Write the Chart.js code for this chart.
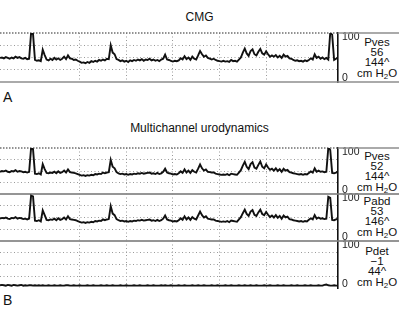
<!DOCTYPE html>
<html><head><meta charset="utf-8">
<script src="https://cdn.jsdelivr.net/npm/chart.js@4/dist/chart.umd.min.js"></script>
<style>
body{margin:0;width:399px;height:311px;position:relative;background:#fff;overflow:hidden;font-family:"Liberation Sans",Arial,Helvetica,sans-serif;color:#111}
canvas{position:absolute;left:0}
.t{position:absolute;white-space:nowrap}
.ttl{font-size:12px;width:399px;left:0;text-align:center;line-height:14px}
.pl{font-size:14px;left:3px;line-height:16px}
.ch{font-size:11.5px;line-height:10.4px;left:352px;width:50px;text-align:center}
.ch sub{font-size:8px;line-height:0;vertical-align:-2px}
</style>
</head><body>
<div class="t ttl" style="top:10px">CMG</div>
<div class="t pl" style="top:89px">A</div>
<div class="t ttl" style="top:121px">Multichannel urodynamics</div>
<div class="t pl" style="top:292px">B</div>
<div class="t ch" style="top:36.5px">Pves<br>56<br>144^<br>cm H<sub>2</sub>O</div>
<div class="t ch" style="top:150.5px">Pves<br>52<br>144^<br>cm H<sub>2</sub>O</div>
<div class="t ch" style="top:195.5px">Pabd<br>53<br>146^<br>cm H<sub>2</sub>O</div>
<div class="t ch" style="top:245.5px">Pdet<br>&minus;1<br>44^<br>cm H<sub>2</sub>O</div>
<script>
// ---- data (cm H2O), one sample every 2.5 s ----
const sampleStart = 17.5;   // s
const sampleStep = 2.5;     // s
const timeMin = 17.5, timeMax = 452.5, gridEvery = 60; // s

const cmgPves = [
49,50,48,51,49,47,50,48,52,49,51,48,47,49,46,47,110,108,44,42,43,41,69,56,45,
43,47,44,49,45,48,44,47,52,46,55,48,47,44,45,42,40,37,38,36,39,37,41,39,42,
40,44,42,45,43,47,46,80,62,58,46,44,41,43,40,42,39,43,41,44,42,45,43,46,42,
45,44,47,43,45,42,44,41,45,47,57,45,44,42,40,42,41,43,48,45,53,46,50,44,52,
47,45,55,66,58,52,55,49,47,45,47,44,42,41,40,42,40,41,39,44,41,42,40,45,50,
62,72,60,54,66,70,58,55,64,71,60,57,65,58,52,55,52,56,50,54,49,57,52,54,48,
47,44,42,43,41,42,40,43,41,44,48,45,58,49,52,47,50,46,49,45,110,106,44,47,50];

const pves = [
48,50,49,51,48,47,50,49,52,48,50,49,47,48,46,48,110,107,43,42,44,41,68,55,45,
44,46,45,48,44,49,45,47,51,46,54,47,46,45,44,42,40,38,39,37,39,38,40,39,42,
41,43,42,46,44,46,47,79,61,57,47,44,42,43,41,42,40,42,41,43,42,44,43,45,43,
44,45,46,43,44,42,45,42,44,48,56,46,44,43,41,42,41,44,49,45,54,46,51,45,52,
48,46,56,67,57,51,54,48,47,46,46,43,42,41,40,41,40,42,39,43,42,41,40,46,52,
64,74,61,55,68,73,59,56,66,75,61,57,67,59,53,56,51,57,50,55,48,56,51,53,47,
46,44,43,42,41,42,40,42,41,45,49,46,57,48,51,48,49,47,48,110,105,45,44,46,49];

const pabd = [
47,49,48,50,47,46,49,48,51,47,49,48,46,47,45,47,106,104,42,41,43,40,68,56,44,
43,45,44,47,43,48,44,46,50,45,53,46,45,44,43,41,39,37,38,36,38,37,39,38,41,
40,42,41,45,43,45,46,79,60,56,46,43,41,42,40,41,39,41,40,42,41,43,42,44,42,
43,44,45,42,43,41,44,41,43,47,55,45,43,42,40,41,40,43,48,44,53,45,50,44,51,
47,45,55,65,56,50,53,47,46,45,45,42,41,40,39,40,39,41,38,42,41,40,39,45,51,
61,70,59,54,65,69,57,54,63,70,59,56,64,57,51,55,50,56,49,54,47,55,50,52,46,
45,43,42,41,40,41,39,41,40,44,48,45,56,47,50,47,48,46,47,103,100,44,43,45,48];

const pdet = [
-3,-2,-3,-4,-2,-3,-4,-2,-3,-4,-3,-2,-4,-3,-4,-3,-3,-4,-3,-4,-3,-4,-3,-4,-4,
-3,-4,-4,-3,-4,-4,-3,-4,-4,-3,-3,-4,-4,-3,-4,-4,-3,-4,-4,-4,-3,-4,-4,-3,-4,
-4,-4,-3,-4,-4,-3,-4,-4,-3,-4,-4,-4,-3,-4,-4,-3,-4,-4,-4,-3,-4,-4,-3,-4,-4,
-4,-3,-4,-4,-3,-4,-4,-4,-3,-4,-3,-4,-4,-3,-4,-4,-4,-3,-4,-4,-3,-4,-4,-4,-3,
-4,-4,-3,-4,-4,-3,-4,-4,-4,-3,-4,-4,-3,-4,-4,-4,-3,-4,-4,-3,-4,-4,-4,-3,-4,
-4,-3,-4,-4,-3,-4,-4,-3,-4,-4,-4,-3,-4,-4,-3,-4,-4,-4,-3,-4,-4,-3,-4,-4,-4,
-3,-4,-4,-3,-4,-4,-4,-3,-4,-4,-3,-4,-4,-4,-3,-4,-4,-2,-1,-3,-4,-4,-3,-4,-4];

const yMin = -10, yMax = 110;
const yLabelValues = [0, 100];
const yGridValues = [20, 50, 80];

// ---- layout / style ----
const FONT = '"Liberation Sans", Arial, Helvetica, sans-serif';
const PAD = 3;
const AXIS_W = 61;
const GRID_C = '#9a9a9a';
const SEP_C = '#8e8e8e';

const panelFrame = {
  id: 'panelFrame',
  beforeDatasetsDraw(chart, args, opts) {
    const {ctx, chartArea: {left, right, top, bottom}, width} = chart;
    ctx.save();
    const solid = (x0, x1, y) => {
      ctx.setLineDash([]); ctx.strokeStyle = SEP_C; ctx.lineWidth = 1.6;
      ctx.beginPath(); ctx.moveTo(x0, y); ctx.lineTo(x1, y); ctx.stroke();
    };
    if (opts.top === 'ruler') {
      ctx.setLineDash([1.5, 1.5]); ctx.strokeStyle = '#6f6f6f'; ctx.lineWidth = 1.6;
      ctx.beginPath(); ctx.moveTo(left, top); ctx.lineTo(right, top); ctx.stroke();
      solid(right, width, top);
    } else if (opts.top === 'solid') {
      solid(left, width, top);
    }
    if (opts.bottom === 'solid') solid(left, width, bottom);
    ctx.restore();
  }
};

const times = cmgPves.map((_, i) => sampleStart + sampleStep * i);

const panels = [
  {values: cmgPves, top: 33,  bottom: 82,  frameTop: 'ruler', frameBottom: 'solid'},
  {values: pves,    top: 148, bottom: 194, frameTop: 'ruler', frameBottom: 'solid'},
  {values: pabd,    top: 194, bottom: 241, frameTop: 'solid', frameBottom: 'solid'},
  {values: pdet,    top: 241, bottom: 288, frameTop: 'solid', frameBottom: 'none'}
];

panels.forEach(p => {
  const cv = document.createElement('canvas');
  cv.width = 399; cv.height = (p.bottom - p.top) + 2 * PAD;
  cv.style.top = (p.top - PAD) + 'px';
  document.body.appendChild(cv);
  new Chart(cv, {
    type: 'line',
    data: {datasets: [{
      data: p.values.map((v, i) => ({x: times[i], y: v})),
      borderColor: '#111', borderWidth: 1.9, pointRadius: 0, tension: 0, fill: false
    }]},
    options: {
      responsive: false, animation: false, events: [],
      layout: {padding: {top: PAD, bottom: PAD, left: 0, right: 0}},
      plugins: {legend: {display: false}, tooltip: {enabled: false},
        panelFrame: {top: p.frameTop, bottom: p.frameBottom}},
      scales: {
        x: {
          type: 'linear', min: timeMin, max: timeMax,
          ticks: {display: false, stepSize: gridEvery},
          afterBuildTicks: s => { s.ticks = s.ticks.filter(t => Math.abs(t.value % gridEvery) < 1e-6); },
          grid: {color: GRID_C, lineWidth: 1, drawTicks: false},
          border: {display: false, dash: [1, 2.5]},
          afterFit: s => { s.height = 0; s.paddingLeft = 0; s.paddingRight = 0; }
        },
        y: {
          position: 'right', min: yMin, max: yMax,
          afterBuildTicks: s => { s.ticks = yLabelValues.concat(yGridValues).sort((a,b)=>a-b).map(v => ({value: v})); },
          ticks: {autoSkip: false, padding: 4, color: '#222', font: {size: 10.5, family: FONT},
            callback: v => yLabelValues.includes(v) ? String(v) : ''},
          grid: {drawTicks: false, lineWidth: 1,
            color: c => (c.tick && yGridValues.includes(c.tick.value)) ? GRID_C : 'rgba(0,0,0,0)'},
          border: {display: true, color: '#111', width: 1.6, dash: [1, 2.5]},
          afterFit: s => { s.width = AXIS_W; s.paddingTop = 0; s.paddingBottom = 0; }
        }
      }
    },
    plugins: [panelFrame]
  });
});
</script>
</body></html>
